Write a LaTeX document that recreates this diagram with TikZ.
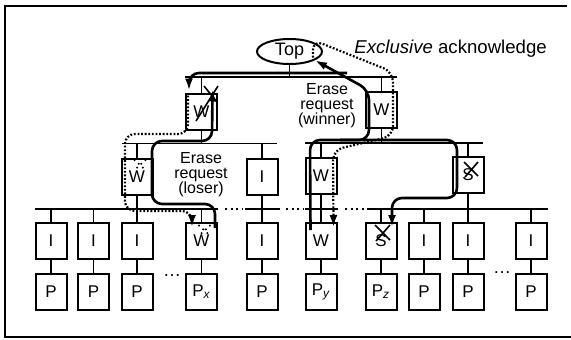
\documentclass[tikz,border=0pt]{standalone}
\usepackage{fontspec}
\setmainfont{Liberation Sans}
\usepackage{tikz}
\usetikzlibrary{
  arrows.meta,
  calc,
  shapes.geometric
}

\begin{document}
\begin{tikzpicture}[x=0.5pt, y=-0.5pt,
  every node/.style={font=\fontsize{8.5}{10}\selectfont},
  box/.style={draw, line width=1pt, minimum width=15.5pt, minimum height=18pt, inner sep=0pt},
  link/.style={line width=0.6pt},
  gap/.style={line width=0.7pt, dash pattern=on 1pt off 1.75pt},
  req/.style={line width=1.3pt, rounded corners=5pt, -{Latex[length=6pt, width=4pt]}},
  ack/.style={line width=1.1pt, rounded corners=5pt, dash pattern=on 0.9pt off 0.9pt, -{Latex[length=6pt, width=4pt]}},
  cross/.style={line width=0.8pt}]
  \useasboundingbox (0,0) rectangle (571,339);
  \draw[line width=0.7pt] (567,6) -- (5,6) -- (5,337) -- (571,337);

  % switches
  \node[draw, ellipse, line width=1pt, minimum width=32.5pt, minimum height=12.5pt, inner sep=0pt, font=\fontsize{9}{10}\selectfont] (top) at (289.5,51.5) {Top};
  \node[box] (wa) at (201.5,111.5) {W};
  \node[box] (wb) at (381.5,110) {W};
  \node[box] (wc) at (137,176.5) {W};
  \node[box] (ib) at (262,176.5) {I};
  \node[box] (wd) at (321,175.5) {W};
  \node[box] (sa) at (468,175) {S};
  \node[box] (i1) at (51,241) {I};
  \node[box] (i2) at (93.5,241) {I};
  \node[box] (i3) at (137,241) {I};
  \node[box] (wx) at (201.5,241) {W};
  \node[box] (i4) at (262,241) {I};
  \node[box] (wy) at (321,241) {W};
  \node[box] (sz) at (381,241) {S};
  \node[box] (i5) at (424,241) {I};
  \node[box] (i6) at (468,241) {I};
  \node[box] (i7) at (531,241) {I};

  % processors
  \node[box] (p1) at (51,292) {P};
  \node[box] (p2) at (93.5,292) {P};
  \node[box] (p3) at (137,292) {P};
  \node[box] (px) at (201.5,292) {P\textsubscript{\itshape x}};
  \node[box] (p4) at (262,292) {P};
  \node[box] (py) at (321,292) {P\textsubscript{\itshape y}};
  \node[box] (pz) at (381,292) {P\textsubscript{\itshape z}};
  \node[box] (p5) at (424,292) {P};
  \node[box] (p6) at (468,292) {P};
  \node[box] (p7) at (531,292) {P};
  \node[font=\fontsize{9}{10}\selectfont] (da) at (172,276) {\dots};
  \node[font=\fontsize{9}{10}\selectfont] (db) at (502,273) {\dots};

  % buses
  \coordinate (ba) at (185,77);
  \coordinate (bb) at (397,77);
  \coordinate (bc) at (122,143.5);
  \coordinate (bd) at (277,143.5);
  \coordinate (be) at (305,143);
  \coordinate (bf) at (483,143);
  \coordinate (bg) at (35,209);
  \draw[link] (ba) -- (bb) (bc) -- (bd) (be) -- (bf);
  \draw[link] (bg) -- (218,209) (245,209) -- (280,209) (305,209) -- (338,209) (367,209) -- (548,209);
  \draw[gap] (225,209) -- (243,209) (286,209) -- (303,209) (345,209) -- (364,209);

  \draw[link] (top) -- (top |- ba) (wa) -- (wa |- ba) (wb) -- (wb |- ba);
  \draw[link] (wa) -- (wa |- bc) (wc) -- (wc |- bc) (ib) -- (ib |- bc);
  \draw[link] (wb) -- (wb |- be) (wd) -- (wd |- be) (sa) -- (sa |- be);
  \draw[link] (wc) -- (i3) (ib) -- (i4) (wd) -- (wy) (sa) -- (i6);
  \draw[link] (i1) -- (i1 |- bg) (i2) -- (i2 |- bg) (wx) -- (wx |- bg) (sz) -- (sz |- bg) (i5) -- (i5 |- bg) (i7) -- (i7 |- bg);
  \draw[link] (i1) -- (p1) (i2) -- (p2) (i3) -- (p3) (wx) -- (px) (i4) -- (p4);
  \draw[link] (wy) -- (py) (sz) -- (pz) (i5) -- (p5) (i6) -- (p6) (i7) -- (p7);

  % erase requests
  \coordinate (fork) at (347,73);
  \draw[req] ($(wy.north west)+(6,8)$) -- (310,140) -- (369,140) -- (369,90) -- (top.-19);
  \draw[req] (340,140) -- (457,140) -- (457,198) -- (392,198) -- ($(sz.north east)+(-5.5,5)$);
  \draw[req] (fork) -- (189,73) -- ($(wa.north west)+(4,-2)$);
  \draw[req] ($(wx.north east)+(-3,6)$) -- (215,204) -- (152,204) -- (152,141) -- (212,141) -- ($(wa.north east)+(-5.5,-3)$);

  % acknowledges
  \draw[ack] ($(top)+(23.5,6)$) -- (313,40) -- (393,72) -- (393,136) -- (333,150) -- ($(wy.north east)+(-4,5)$);
  \draw[ack] ($(wa.north west)+(3,3)$) -- (188,134) -- (125,134) -- (125,211) -- (192,211) -- ($(wx.north west)+(7,5)$);

  % crossed out copies
  \draw[cross] ($(wa)+(2.5,-25.5)$) -- ($(wa)+(15.5,-9.5)$) ($(wa)+(16.5,-25.5)$) -- ($(wa)+(-5.5,9.5)$);
  \draw[cross] ($(sa)+(-4,-13)$) -- ($(sa)+(10,1)$) ($(sa)+(10,-13)$) -- ($(sa)+(-3,2)$);
  \draw[cross] ($(sz)+(-6,-16)$) -- ($(sz)+(9,-1)$) ($(sz)+(9,-16)$) -- ($(sz)+(-5,0)$);
  \draw[cross, dotted] ($(wc)+(-3,-17)$) -- ($(wc)+(9,-6)$) ($(wc)+(9,-17)$) -- ($(wc)+(-3,-6)$);
  \draw[cross, dotted] ($(wx)+(-3,-16)$) -- ($(wx)+(9,-5)$) ($(wx)+(9,-16)$) -- ($(wx)+(-3,-5)$);

  % labels
  \node[align=center, font=\fontsize{8}{7.5}\selectfont] (win) at (327,106) {Erase\\request\\(winner)};
  \node[align=center, font=\fontsize{8}{7.5}\selectfont] (lose) at (201,175) {Erase\\request\\(loser)};
  \node[anchor=west, inner sep=0pt, font=\fontsize{9.3}{11}\selectfont] (excl) at (354,49) {\textit{Exclusive} acknowledge};
\end{tikzpicture}
\end{document}
